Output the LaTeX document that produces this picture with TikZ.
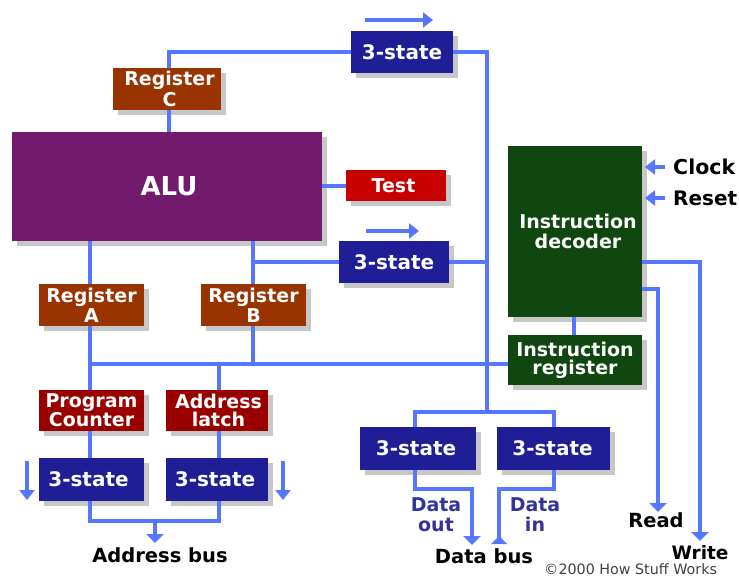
\documentclass[tikz,border=0pt]{standalone}
\usepackage{fontspec}
\setmainfont{DejaVu Sans}
\usetikzlibrary{shadows,arrows.meta,calc}
\definecolor{wire}{HTML}{5577FF}
\definecolor{cbrown}{HTML}{993300}
\definecolor{cpurple}{HTML}{721A6E}
\definecolor{cred}{HTML}{C80000}
\definecolor{cblue}{HTML}{201E96}
\definecolor{cdkred}{HTML}{990000}
\definecolor{cgreen}{HTML}{10460F}
\definecolor{clabel}{HTML}{333399}
\tikzset{
  x=1pt,y=-1pt,
  box/.style={draw=none,inner sep=0pt,align=center,text=white,font=\fontsize{19}{18}\selectfont\bfseries,
    drop shadow={shadow xshift=5pt,shadow yshift=-5pt,fill=black!22,opacity=1}},
  wireline/.style={draw=wire,line width=3.4pt,line join=miter},
  tip/.style={wireline,-{Triangle[width=17pt,length=9pt]}},
  thintip/.style={draw=wire,line width=3.2pt,-{Triangle[width=15pt,length=10pt]}},
  lab/.style={inner sep=0pt,align=center,font=\fontsize{19.5}{21}\selectfont\bfseries,text=black},
  dlab/.style={lab,text=clabel,font=\fontsize{19}{20}\selectfont\bfseries},
}
\newcommand{\bx}[7]{\node[box,fill=#2,minimum width=#5pt-#3pt,minimum height=#6pt-#4pt] (#1) at ({(#3+#5)/2},{(#4+#6)/2}) {#7};}
\newcommand{\tst}{{\fontsize{20}{20}\selectfont 3-state}}
\begin{document}
\begin{tikzpicture}
\useasboundingbox (0,0) rectangle (739,578);
\bx{regC}{cbrown}{113}{68}{221}{110}{\hspace*{5pt}Register\\[1pt]\hspace*{5pt}C}
\bx{alu}{cpurple}{12}{132}{322}{241}{\hspace*{4pt}\raisebox{-3pt}{\fontsize{26}{28}\selectfont ALU}}
\bx{test}{cred}{346}{170}{446}{201}{Test\hspace*{5pt}}
\bx{stTop}{cblue}{351}{31}{453}{73}{\tst}
\bx{stMid}{cblue}{339}{241}{449}{283}{\tst}
\bx{regA}{cbrown}{39}{284}{144}{326}{Register\\[2pt]A}
\bx{regB}{cbrown}{201}{284}{306}{326}{Register\\[2pt]B}
\bx{pc}{cdkred}{39}{390}{144}{431}{Program\\Counter}
\bx{latch}{cdkred}{166}{390}{268}{431}{\hspace*{3pt}Address\\\hspace*{3pt}latch}
\bx{stL}{cblue}{39}{458}{144}{501}{\tst\hspace*{6pt}}
\bx{stR}{cblue}{166}{458}{268}{501}{\tst\hspace*{4pt}}
\bx{stOut}{cblue}{360}{427}{476}{470}{\tst\hspace*{4pt}}
\bx{stIn}{cblue}{497}{427}{610}{470}{\tst\hspace*{2pt}}
\bx{dec}{cgreen}{508}{146}{642}{317}{\hspace*{6pt}Instruction\\[2pt]\hspace*{6pt}decoder}
\bx{ireg}{cgreen}{508}{335}{642}{385}{Instruction\\register}
% labels
\node[lab,anchor=west,font=\fontsize{20.5}{21}\selectfont\bfseries] (clock) at (673,167) {Clock};
\node[lab,anchor=west,font=\fontsize{20}{21}\selectfont\bfseries] (reset) at (673,198) {Reset};
\node[lab] (abus) at (160,555) {Address bus};
\node[lab] (dbus) at (484,556) {Data bus};
\node[lab] (read) at (656,520) {Read};
\node[lab,font=\fontsize{18.5}{21}\selectfont\bfseries] (write) at (700,553) {Write};
\node[dlab] (dout) at (436,515) {Data\\out};
\node[dlab] (din) at (535,515) {Data\\in};
\node[inner sep=0pt,font=\fontsize{14.3}{15}\selectfont,text=black!75,anchor=base west] (copy) at (544,574.5) {©2000 How Stuff Works};
% routing coordinates
\coordinate (xC) at (169,0);
\coordinate (xA) at (90,0);
\coordinate (xB) at (253,0);
\coordinate (xL) at (219,0);
\coordinate (xBus) at (487,0);
\coordinate (xO) at (415,0);
\coordinate (xI) at (554,0);
\coordinate (yBus) at (0,364);
\coordinate (j) at (487,412);
\coordinate (addrIn) at (155,521);
\coordinate (addrEnd) at (155,543);
\coordinate (outEnd) at (472,545);
\coordinate (inEnd) at (499,540);
\coordinate (readEnd) at (658,512);
\coordinate (writeEnd) at (700,541);
% wires
\draw[wireline] (stTop.west) -| (regC.north -| xC);
\draw[wireline] (regC.south -| xC) -- (alu.north -| xC);
\draw[wireline] (stTop.east) -| (j);
\draw[wireline] (stOut.north -| xO) |- (j) -| (stIn.north -| xI);
\draw[wireline] (stMid.west) -- (stMid.west -| xB);
\draw[wireline] (stMid.east) -- (stMid.east -| xBus);
\draw[wireline] (alu.east |- 0,186) -- (test.west |- 0,186);
\draw[wireline] (alu.south -| xA) -- (regA.north -| xA);
\draw[wireline] (alu.south -| xB) -- (regB.north -| xB);
\draw[wireline] (regA.south -| xA) -- (pc.north -| xA);
\draw[wireline] (regB.south -| xB) -- (xB |- yBus);
\draw[wireline] (xA |- yBus) -- (ireg.west |- yBus);
\draw[wireline] (xL |- yBus) -- (latch.north -| xL);
\draw[wireline] (pc.south -| xA) -- (stL.north -| xA);
\draw[wireline] (latch.south -| xL) -- (stR.north -| xL);
\draw[wireline] (stL.south -| xA) |- (addrIn) -| (stR.south -| xL);
\draw[tip] (addrIn) -- (addrEnd);
\draw[wireline] ($(dec.south)+(-1,0)$) -- ($(ireg.north)+(-1,0)$);
\draw[tip] (stOut.south -| xO) |- (472,489) -- (outEnd);
\draw[wireline] (stIn.south -| xI) |- (499,489) -- (inEnd);
\fill[wire] (499,536) -- (507,544) -- (491,544) -- cycle;
\draw[tip] (dec.east |- 0,289) -| (readEnd);
\draw[tip] (dec.east |- 0,262) -| (writeEnd);
% direction arrows
\coordinate (a1) at (365,20); \coordinate (a2) at (433,20);
\coordinate (b1) at (366,231); \coordinate (b2) at (419,231);
\coordinate (c1) at (27,461); \coordinate (c2) at (27,500);
\coordinate (d1) at (283,461); \coordinate (d2) at (283,500);
\coordinate (e1) at (665,167); \coordinate (e2) at (645,167);
\coordinate (f1) at (665,198); \coordinate (f2) at (645,198);
\foreach \p/\q in {a1/a2,b1/b2,c1/c2,d1/d2,e1/e2,f1/f2}{\draw[thintip] (\p) -- (\q);}
\end{tikzpicture}
\end{document}
